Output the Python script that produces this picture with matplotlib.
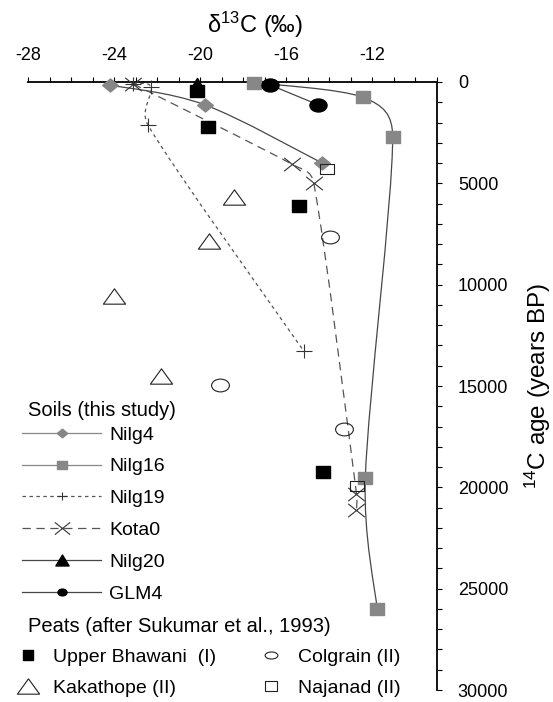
import numpy as np
import matplotlib
matplotlib.use("Agg")
import matplotlib.pyplot as plt
from matplotlib.path import Path
from matplotlib.patches import PathPatch
from matplotlib.lines import Line2D
from matplotlib.ticker import MultipleLocator, FixedLocator

plt.rcParams['font.family'] = ['Liberation Sans', 'DejaVu Sans']
plt.rcParams['mathtext.default'] = 'regular'
plt.rcParams['axes.unicode_minus'] = False
plt.rcParams['lines.scale_dashes'] = False

# ---------------- data (delta13C permil, 14C age years BP) ----------------
nilg4_x = [-24.2, -19.8, -14.35]
nilg4_y = [150, 1120, 3990]
nilg16_x = [-17.5, -12.43, -11.06, -12.33, -11.78]
nilg16_y = [30, 760, 2690, 19550, 26020]
nilg19_x = [-23.1, -22.28, -22.43, -15.2]
nilg19_y = [100, 260, 2120, 13260]
kota0_x = [-23.1, -15.73, -14.73, -12.74, -12.74]
kota0_y = [100, 4060, 4970, 20320, 21130]
nilg20_x = [-20.13]
nilg20_y = [30]
glm4_x = [-16.74, -14.53]
glm4_y = [150, 1120]

bhawani_x = [-20.13, -19.64, -15.4, -14.29]
bhawani_y = [440, 2200, 6110, 19260]
colgrain_x = [-13.95, -19.07, -13.33]
colgrain_y = [7650, 14940, 17110]
kakathope_x = [-18.42, -19.61, -24.0, -21.81]
kakathope_y = [5690, 7850, 10560, 14530]
najanad_x = [-14.11, -12.71]
najanad_y = [4270, 19910]

x_major = [-28, -24, -20, -16, -12]
y_major = [0, 5000, 10000, 15000, 20000, 25000, 30000]

soil_labels = ['Nilg4', 'Nilg16', 'Nilg19', 'Kota0', 'Nilg20', 'GLM4']
peat_labels_a = ['Upper Bhawani  (I)', 'Kakathope (II)']
peat_labels_b = ['Colgrain (II)', 'Najanad (II)']

# ---------------- custom markers ----------------
def poly_marker(pts):
    pts = list(pts) + [pts[0]]
    codes = [Path.MOVETO] + [Path.LINETO] * (len(pts) - 2) + [Path.CLOSEPOLY]
    return Path(pts, codes)

def ellipse_marker(aspect):
    c = Path.unit_circle()
    return Path(c.vertices * np.array([1.0, aspect]), c.codes)

def rect_marker(aspect):
    return poly_marker([(-1, -aspect), (1, -aspect), (1, aspect), (-1, aspect)])

diamond_m = poly_marker([(0, 0.83), (1, 0), (0, -0.83), (-1, 0)])
tri_wide = poly_marker([(0, 0.69), (-1, -0.69), (1, -0.69)])
tri_small = poly_marker([(0, 0.83), (-1, -0.83), (1, -0.83)])
x_mark = Path([(-1, -0.8), (1, 0.8), (-1, 0.8), (1, -0.8)],
              [Path.MOVETO, Path.LINETO, Path.MOVETO, Path.LINETO])
plus_mark = Path([(-1, 0), (1, 0), (0, -0.82), (0, 0.82)],
                 [Path.MOVETO, Path.LINETO, Path.MOVETO, Path.LINETO])

GRAY = '#878787'
LINE = '#474747'
DASH = '#555555'

W, H = 553, 702
fig = plt.figure(figsize=(W / 100, H / 100), dpi=100)
L, R, T, B = 28, 437, 82, 690
ax = fig.add_axes([L / W, 1 - B / H, (R - L) / W, (B - T) / H])

ax.set_xlim(-28, -9)
ax.set_ylim(30000, 0)
for s in ['left', 'bottom']:
    ax.spines[s].set_visible(False)
for s in ['top', 'right']:
    ax.spines[s].set_linewidth(1.3)
ax.xaxis.tick_top()
ax.yaxis.tick_right()
ax.xaxis.set_major_locator(FixedLocator(x_major))
ax.xaxis.set_minor_locator(MultipleLocator(1))
ax.yaxis.set_major_locator(FixedLocator(y_major))
ax.yaxis.set_minor_locator(MultipleLocator(1000))
ax.tick_params(which='both', direction='out', length=3.5, width=0.8,
               top=True, right=True, bottom=False, left=False)
ax.tick_params(axis='x', which='major', labelsize=13, pad=9.5)
ax.tick_params(axis='y', which='major', labelsize=13, pad=11.5)

ax.set_xlabel('δ$^{13}$C (‰)', fontsize=17)
ax.xaxis.set_label_position('top')
ax.xaxis.set_label_coords((255 - L) / (R - L), 1 + (T - 25) / (B - T))
ax.xaxis.label.set_va('center')
ax.set_ylabel('$^{14}$C age (years BP)', fontsize=17.5, rotation=90)
ax.yaxis.set_label_position('right')
ax.yaxis.set_label_coords((538 - L) / (R - L), 0.5)
ax.yaxis.label.set_va('center')
ax.yaxis.label.set_ha('center')


def smooth_line(xs, ys, **kw):
    pts = ax.transData.transform(np.column_stack([xs, ys]))
    n = len(pts)
    verts = [pts[0]]
    codes = [Path.MOVETO]
    for i in range(n - 1):
        p0 = pts[max(i - 1, 0)]
        p1 = pts[i]
        p2 = pts[i + 1]
        p3 = pts[min(i + 2, n - 1)]
        seg = np.linalg.norm(p2 - p1)
        t1 = (p2 - p0) / 6.0
        t2 = (p3 - p1) / 6.0
        l1 = np.linalg.norm(t1)
        l2 = np.linalg.norm(t2)
        if l1 > 0.45 * seg:
            t1 = t1 * 0.45 * seg / l1
        if l2 > 0.45 * seg:
            t2 = t2 * 0.45 * seg / l2
        verts += [p1 + t1, p2 - t2, p2]
        codes += [Path.CURVE4] * 3
    dv = ax.transData.inverted().transform(np.array(verts))
    ax.add_patch(PathPatch(Path(dv, codes), fill=False, clip_on=False, **kw))


# lines
smooth_line(nilg4_x, nilg4_y, edgecolor=LINE, lw=0.9, zorder=2)
smooth_line(nilg16_x, nilg16_y, edgecolor=LINE, lw=0.9, zorder=2)
smooth_line(nilg19_x, nilg19_y, edgecolor=DASH, lw=0.9,
            linestyle=(0, (2.5, 2.5)), zorder=2)
smooth_line(kota0_x, kota0_y, edgecolor=DASH, lw=0.9,
            linestyle=(0, (6, 4)), zorder=2)
ax.plot(glm4_x, glm4_y, color=LINE, lw=0.9, zorder=2, clip_on=False)

# markers - soils
ax.plot(nilg4_x, nilg4_y, ls='none', marker=diamond_m, ms=11.3, color=GRAY,
        mec=GRAY, zorder=4, clip_on=False)
ax.plot(nilg16_x, nilg16_y, ls='none', marker=rect_marker(0.79), ms=10.2,
        color=GRAY, mec=GRAY, zorder=4, clip_on=False)
ax.plot(nilg19_x, nilg19_y, ls='none', marker=plus_mark, ms=12.2,
        mec='#333333', mew=0.8, zorder=4, clip_on=False)
ax.plot(kota0_x, kota0_y, ls='none', marker=x_mark, ms=12, mfc='none',
        mec='#333333', mew=0.8, zorder=4, clip_on=False)
ax.plot(nilg20_x, nilg20_y, ls='none', marker=tri_small, ms=8.8,
        color='black', zorder=5, clip_on=False)
ax.plot(glm4_x, glm4_y, ls='none', marker=ellipse_marker(0.76), ms=12.3,
        color='black', zorder=5, clip_on=False)

# markers - peats
ax.plot(bhawani_x, bhawani_y, ls='none', marker=rect_marker(0.86), ms=10.2,
        color='black', zorder=4, clip_on=False)
ax.plot(colgrain_x, colgrain_y, ls='none', marker=ellipse_marker(0.72),
        ms=12.8, mfc='none', mec='#222222', mew=0.8, zorder=4, clip_on=False)
ax.plot(kakathope_x, kakathope_y, ls='none', marker=tri_wide, ms=16,
        mfc='none', mec='#222222', mew=0.8, zorder=4, clip_on=False)
ax.plot(najanad_x, najanad_y, ls='none', marker=rect_marker(0.7), ms=10.5,
        mfc='none', mec='#222222', mew=0.8, zorder=4, clip_on=False)

# ---------------- legends ----------------
FS = 14
FPX = FS * 100 / 72.0
fig.text(28 / W, 1 - 410 / H, 'Soils (this study)', fontsize=14.5,
         ha='left', va='center')
fig.text(28 / W, 1 - 627 / H, 'Peats (after Sukumar et al., 1993)',
         fontsize=14.5, ha='left', va='center')

soil_handles = [
    Line2D([], [], color=GRAY, lw=0.9, marker=diamond_m, ms=7.5, mec=GRAY),
    Line2D([], [], color=GRAY, lw=0.9, marker=rect_marker(0.8), ms=7.5, mec=GRAY),
    Line2D([], [], color=DASH, lw=0.9, ls=(0, (2.5, 2.5)), marker=plus_mark,
           ms=7.5, mec='#333333', mew=0.8),
    Line2D([], [], color=DASH, lw=0.9, ls=(0, (6, 4)), marker=x_mark,
           ms=11, mec='#333333', mfc='none', mew=0.8),
    Line2D([], [], color=LINE, lw=0.9, marker=tri_small, ms=9.5,
           mfc='black', mec='black'),
    Line2D([], [], color=LINE, lw=0.9, marker=ellipse_marker(0.75), ms=6.5,
           mfc='black', mec='black'),
]
fig.legend(soil_handles, soil_labels, loc='upper left',
           bbox_to_anchor=(22 / W, 1 - 426 / H),
           bbox_transform=fig.transFigure, frameon=False,
           fontsize=FS, borderpad=0, borderaxespad=0,
           handlelength=79 / FPX, handletextpad=8 / FPX,
           labelspacing=0.73)

peat_a = [
    Line2D([], [], ls='none', marker=rect_marker(1.0), ms=7, mfc='black', mec='black'),
    Line2D([], [], ls='none', marker=tri_wide, ms=16, mfc='none', mec='#222222', mew=0.8),
]
peat_b = [
    Line2D([], [], ls='none', marker=ellipse_marker(0.55), ms=9.2, mfc='none',
           mec='#222222', mew=0.8),
    Line2D([], [], ls='none', marker=rect_marker(0.8), ms=8.5, mfc='none',
           mec='#222222', mew=0.8),
]
fig.legend(peat_a, peat_labels_a, loc='upper left',
           bbox_to_anchor=(14 / W, 1 - 648 / H), bbox_transform=fig.transFigure,
           frameon=False, fontsize=FS, borderpad=0, borderaxespad=0,
           handlelength=28 / FPX, handletextpad=11 / FPX, labelspacing=0.72)
fig.legend(peat_b, peat_labels_b, loc='upper left',
           bbox_to_anchor=(258 / W, 1 - 648 / H), bbox_transform=fig.transFigure,
           frameon=False, fontsize=FS, borderpad=0, borderaxespad=0,
           handlelength=26 / FPX, handletextpad=14 / FPX, labelspacing=0.72)

fig.savefig('out.png', dpi=100)
